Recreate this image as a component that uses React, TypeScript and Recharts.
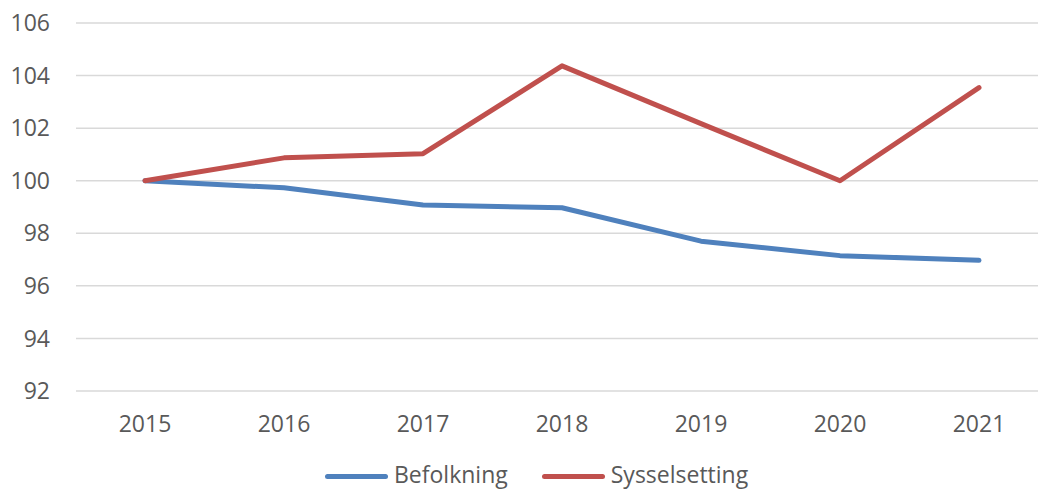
import { LineChart, Line, XAxis, YAxis, CartesianGrid, Legend } from 'recharts';

const years = ['2015', '2016', '2017', '2018', '2019', '2020', '2021'];
const befolkning = [100, 99.73, 99.08, 98.97, 97.7, 97.15, 96.97];
const sysselsetting = [100, 100.87, 101.03, 104.37, 102.17, 100.0, 103.54];
const yTicks = [92, 94, 96, 98, 100, 102, 104, 106];

const series = [
  { key: 'Befolkning', color: '#4F81BD' },
  { key: 'Sysselsetting', color: '#C0504D' }
];

const data = years.map((year, i) => ({
  year,
  Befolkning: befolkning[i],
  Sysselsetting: sysselsetting[i]
}));

const font = '"Open Sans", sans-serif';
const textColor = '#595959';

const LegendContent = () => (
  <div style={{ display: 'flex', alignItems: 'center', fontFamily: font, fontSize: 23, lineHeight: '24px', color: textColor }}>
    {series.map((s, i) => (
      <div key={s.key} style={{ display: 'flex', alignItems: 'center', marginLeft: i === 0 ? 0 : 34 }}>
        <div style={{ width: 63, height: 5, borderRadius: 3, background: s.color, marginRight: 6, marginTop: 4 }} />
        <span>{s.key}</span>
      </div>
    ))}
  </div>
);

const App = () => {
  return (
    <div style={{ position: 'absolute', left: 0, top: 0, width: 1038, height: 489, overflow: 'hidden', background: '#fff' }}>
      <LineChart width={1048} height={489} data={data} margin={{ top: 23, right: 0, left: 0, bottom: 0 }}>
        <CartesianGrid vertical={false} stroke="#d9d9d9" strokeWidth={1.5} />
        <XAxis
          dataKey="year"
          axisLine={false}
          tickLine={false}
          tickSize={0}
          tickMargin={25}
          height={50}
          padding={{ left: 69, right: 69 }}
          tick={{ fill: textColor, fontSize: 23, fontFamily: font }}
        />
        <YAxis
          domain={[92, 106]}
          ticks={yTicks}
          axisLine={false}
          tickLine={false}
          tickSize={0}
          tickMargin={26}
          width={76}
          tick={{ fill: textColor, fontSize: 23, fontFamily: font }}
        />
        <Legend
          verticalAlign="bottom"
          height={48}
          content={<LegendContent />}
          wrapperStyle={{ left: 325, top: 462, bottom: 'auto', width: 'auto' }}
        />
        {series.map((s) => (
          <Line
            key={s.key}
            type="linear"
            dataKey={s.key}
            stroke={s.color}
            strokeWidth={5}
            strokeLinecap="round"
            strokeLinejoin="round"
            dot={false}
            activeDot={false}
            isAnimationActive={false}
          />
        ))}
      </LineChart>
    </div>
  );
};

export default App;
